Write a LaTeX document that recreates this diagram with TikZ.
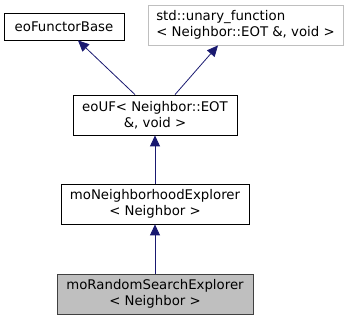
\documentclass[tikz,border=0pt]{standalone}
\usepackage{fontspec}
\setmainfont{DejaVu Sans}
\usetikzlibrary{arrows.meta}
\definecolor{edgeblue}{HTML}{191970}
\definecolor{lightedge}{HTML}{BFBFBF}
\definecolor{selfill}{HTML}{BFBFBF}
\definecolor{seledge}{HTML}{404040}
\begin{document}
\begin{tikzpicture}[x=1pt,y=-1pt,
  cls/.style={draw=black,fill=white,line width=0.8pt,font=\fontsize{13.3}{15.5}\selectfont,align=center,inner sep=0pt},
  extcls/.style={cls,draw=lightedge,align=left},
  selcls/.style={cls,draw=seledge,fill=selfill},
  inherit/.style={draw=edgeblue,line width=0.8pt,-{Triangle[length=11pt,width=10pt,fill=edgeblue]}}]
\useasboundingbox (0,0) rectangle (349,320);
% classes
\node[cls,minimum width=120,minimum height=27] (base) at (64,26.5) {eoFunctorBase};
\node[extcls,minimum width=195,minimum height=40] (unary) at (245.5,25) {std::unary\_function\\< Neighbor::EOT \&, void >};
\node[cls,minimum width=164,minimum height=40] (uf) at (155,115) {eoUF< Neighbor::EOT\\\&, void >};
\node[cls,minimum width=188,minimum height=40] (nbh) at (155,204) {moNeighborhoodExplorer\\< Neighbor >};
\node[selcls,minimum width=196,minimum height=40] (rnd) at (155,294) {moRandomSearchExplorer\\< Neighbor >};
% inheritance arrows
\draw[inherit] ([xshift=-20pt]uf.north) -- ([xshift=14pt]base.south);
\draw[inherit] ([xshift=20pt]uf.north) -- ([xshift=-27.5pt]unary.south);
\draw[inherit] (nbh.north) -- (uf.south);
\draw[inherit] (rnd.north) -- (nbh.south);
\end{tikzpicture}
\end{document}
